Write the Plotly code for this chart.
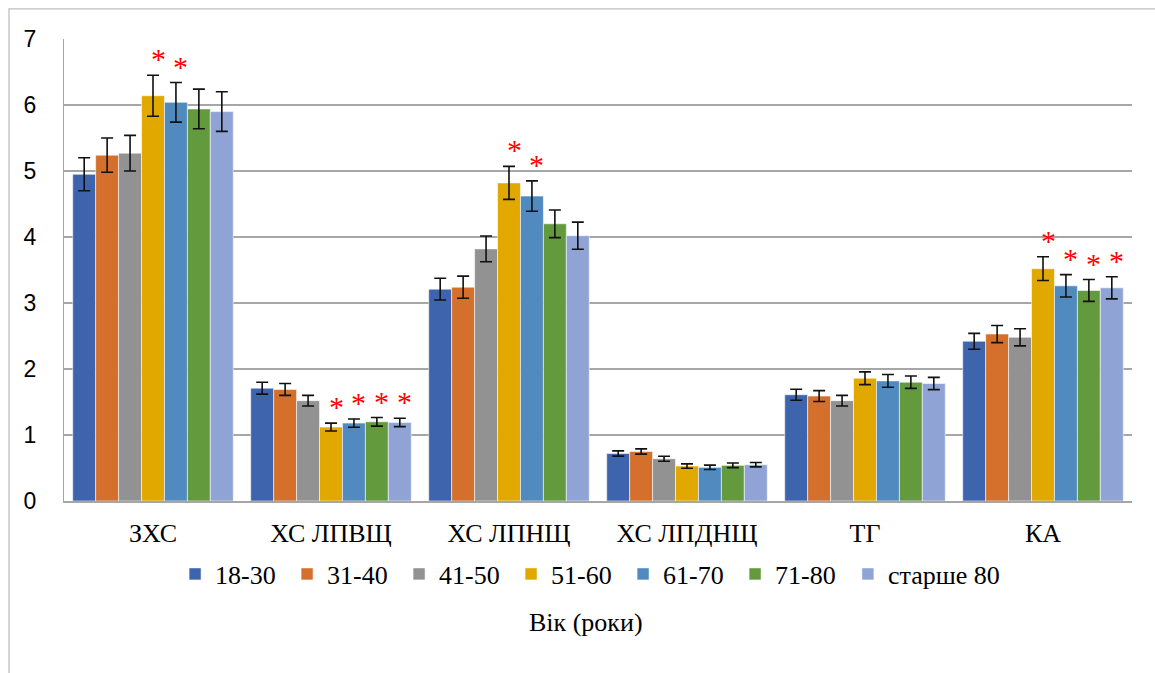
import plotly.graph_objects as go

# Lipid profile indicators by age group (mean ± error)
categories = ["ЗХС", "ХС ЛПВЩ", "ХС ЛПНЩ", "ХС ЛПДНЩ", "ТГ", "КА"]
age_groups = ["18-30", "31-40", "41-50", "51-60", "61-70", "71-80", "старше 80"]

v_18_30 = [4.95, 1.71, 3.21, 0.72, 1.61, 2.42]
v_31_40 = [5.24, 1.69, 3.24, 0.75, 1.59, 2.53]
v_41_50 = [5.27, 1.52, 3.82, 0.64, 1.52, 2.48]
v_51_60 = [6.14, 1.12, 4.82, 0.53, 1.86, 3.52]
v_61_70 = [6.04, 1.18, 4.62, 0.51, 1.82, 3.26]
v_71_80 = [5.94, 1.20, 4.20, 0.54, 1.80, 3.19]
v_80_up = [5.90, 1.19, 4.02, 0.55, 1.78, 3.23]

e_18_30 = [0.25, 0.09, 0.165, 0.04, 0.083, 0.12]
e_31_40 = [0.26, 0.09, 0.167, 0.04, 0.083, 0.13]
e_41_50 = [0.27, 0.08, 0.195, 0.038, 0.08, 0.13]
e_51_60 = [0.31, 0.06, 0.25, 0.033, 0.096, 0.18]
e_61_70 = [0.30, 0.063, 0.23, 0.033, 0.096, 0.17]
e_71_80 = [0.30, 0.065, 0.21, 0.035, 0.093, 0.165]
e_80_up = [0.30, 0.063, 0.205, 0.033, 0.093, 0.167]

# significant difference markers (1 = marked with an asterisk)
sig_18_30 = [0, 0, 0, 0, 0, 0]
sig_31_40 = [0, 0, 0, 0, 0, 0]
sig_41_50 = [0, 0, 0, 0, 0, 0]
sig_51_60 = [1, 1, 1, 0, 0, 1]
sig_61_70 = [1, 1, 1, 0, 0, 1]
sig_71_80 = [0, 1, 0, 0, 0, 1]
sig_80_up = [0, 1, 0, 0, 0, 1]

values = [v_18_30, v_31_40, v_41_50, v_51_60, v_61_70, v_71_80, v_80_up]
errors = [e_18_30, e_31_40, e_41_50, e_51_60, e_61_70, e_71_80, e_80_up]
signif = [sig_18_30, sig_31_40, sig_41_50, sig_51_60, sig_61_70, sig_71_80, sig_80_up]

colors = ["#3D64AD", "#D46F2C", "#929292", "#E1A900", "#508ABF", "#639A3E", "#8FA4D5"]

SERIF = "Liberation Serif"
SANS = "Liberation Sans"

BARGAP = 0.098
n = len(age_groups)
bar_w = (1 - BARGAP) / n

fig = go.Figure()
for k, (name, vals, errs, col) in enumerate(zip(age_groups, values, errors, colors)):
    fig.add_trace(go.Bar(
        name=name, x=categories, y=vals,
        legend="legend2" if k == n - 1 else "legend",
        marker=dict(color=col, line=dict(color="rgba(255,255,255,0.55)", width=1)),
        error_y=dict(type="data", array=errs, visible=True,
                     color="#111111", thickness=1.6, width=6),
    ))

# red asterisks above significant bars
annotations = []
for i, (vals, errs, flags) in enumerate(zip(values, errors, signif)):
    for j, flag in enumerate(flags):
        if flag:
            annotations.append(dict(
                x=j + (i - (n - 1) / 2) * bar_w, y=vals[j] + errs[j],
                xref="x", yref="y", text="*", showarrow=False,
                font=dict(family=SERIF, size=30, color="#FF0000"),
                xanchor="center", yanchor="bottom", xshift=5, yshift=-2,
            ))

annotations.append(dict(
    x=0.489, y=-0.262, xref="paper", yref="paper", text="Вік (роки)",
    showarrow=False, xanchor="center", yanchor="middle",
    font=dict(family=SERIF, size=26, color="#000000"),
))

legend_common = dict(orientation="h", y=-0.158, yanchor="middle",
                     font=dict(family=SERIF, size=26, color="#000000"),
                     itemclick=False, traceorder="normal",
                     bgcolor="rgba(0,0,0,0)")

fig.update_layout(
    width=1155, height=673,
    margin=dict(l=64, r=23, t=39, b=172),
    paper_bgcolor="white", plot_bgcolor="white",
    barmode="group", bargap=BARGAP, bargroupgap=0,
    showlegend=True,
    legend=dict(x=0.104, xanchor="left", entrywidth=67, **legend_common),
    legend2=dict(x=0.734, xanchor="left", **legend_common),
    annotations=annotations,
    shapes=[dict(type="rect", xref="paper", yref="paper",
                 x0=-0.0515, x1=1.03, y0=-0.4, y1=1.065,
                 line=dict(color="#BFBFBF", width=1.3), fillcolor="rgba(0,0,0,0)",
                 layer="below")],
    xaxis=dict(type="category", showgrid=False, showline=True, linecolor="#A6A6A6",
               linewidth=1.5, ticks="", ticklabelstandoff=8,
               tickfont=dict(family=SERIF, size=26, color="#000000")),
    yaxis=dict(range=[0, 7], dtick=1, tick0=0, showgrid=True, gridcolor="#A6A6A6",
               gridwidth=1.5, zeroline=False, showline=True, linecolor="#A6A6A6",
               linewidth=1.2, ticks="", ticklabelstandoff=22,
               tickfont=dict(family=SANS, size=23, color="#000000")),
)

fig.write_html("out.html")
